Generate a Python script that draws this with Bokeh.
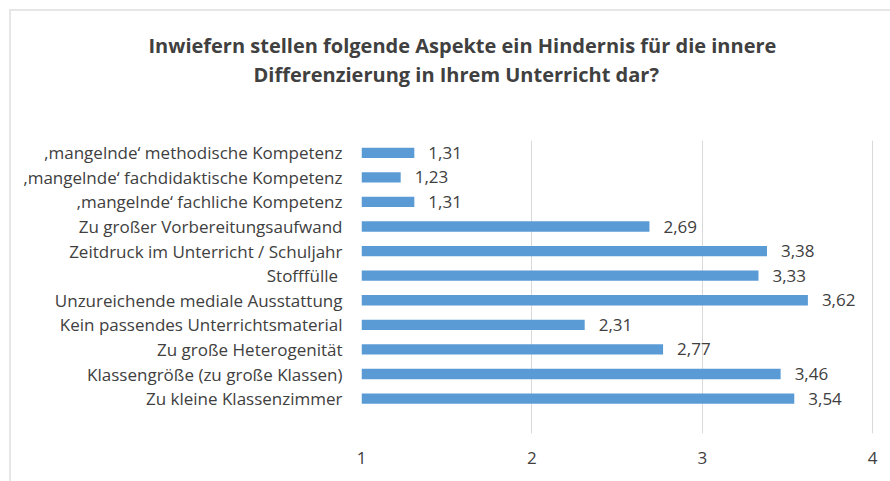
from bokeh.plotting import figure
from bokeh.models import Range1d, ColumnDataSource, LabelSet, Title, FixedTicker, InlineStyleSheet
from bokeh.core.properties import value
from bokeh.embed import file_html
from bokeh.resources import INLINE

categories = [
    "‚mangelnde‘ methodische Kompetenz",
    "‚mangelnde‘ fachdidaktische Kompetenz",
    "‚mangelnde‘ fachliche Kompetenz",
    "Zu großer Vorbereitungsaufwand",
    "Zeitdruck im Unterricht / Schuljahr",
    "Stofffülle ",
    "Unzureichende mediale Ausstattung",
    "Kein passendes Unterrichtsmaterial",
    "Zu große Heterogenität",
    "Klassengröße (zu große Klassen)",
    "Zu kleine Klassenzimmer",
]
values = [1.31, 1.23, 1.31, 2.69, 3.38, 3.33, 3.62, 2.31, 2.77, 3.46, 3.54]
x_ticks = [1, 2, 3, 4]

title_lines = [
    "Inwiefern stellen folgende Aspekte ein Hindernis für die innere",
    "Differenzierung in Ihrem Unterricht dar?",
]

FONT = "Open Sans"
TXT = "#404040"

pos = list(range(len(categories)))
src = ColumnDataSource(dict(
    y=pos,
    v=values,
    lbl=[f"{v:.2f}".replace(".", ",") for v in values],
))

p = figure(
    width=882, height=473,
    x_range=Range1d(1, 4.005),
    y_range=Range1d(len(categories) - 0.5 + 0.92, -0.5),
    output_backend="svg", toolbar_location=None,
    min_border_left=361, min_border_right=9, min_border_bottom=40, min_border_top=140,
)

# faint chart-area border on the top and left edge
p.stylesheets = [InlineStyleSheet(css=(
    ":host::after { content: ''; position: absolute; left: 9px; top: 9px; right: -20px; "
    "bottom: -20px; border-left: 2px solid #e6e6e6; border-top: 2px solid #e6e6e6; "
    "pointer-events: none; }"
))]

p.hbar(y="y", left=1, right="v", height=0.42, source=src,
       fill_color="#5b9bd5", line_color=None)

labels = LabelSet(x="v", y="y", text="lbl", source=src, x_offset=14,
                  text_baseline="middle", text_align="left",
                  text_font=value(FONT), text_font_size="17px", text_color=TXT)
p.add_layout(labels)

# spacer between the title and the plot area
p.add_layout(Title(text=" ", text_font=FONT, text_font_size="10px", standoff=37), "above")
# two-line title (closest-to-frame added first)
p.add_layout(Title(text=title_lines[1], align="left", offset=-108, standoff=0,
                   text_font=FONT, text_font_size="20px", text_font_style="bold",
                   text_color=TXT), "above")
p.add_layout(Title(text=title_lines[0], align="left", offset=-213, standoff=0,
                   text_font=FONT, text_font_size="20px", text_font_style="bold",
                   text_color=TXT), "above")

p.xaxis.ticker = FixedTicker(ticks=x_ticks)
p.xaxis.axis_line_color = None
p.xaxis.major_tick_line_color = None
p.xaxis.minor_tick_line_color = None
p.xaxis.major_label_standoff = 12
p.xaxis.major_label_text_font = FONT
p.xaxis.major_label_text_font_size = "17px"
p.xaxis.major_label_text_color = TXT

p.yaxis.ticker = FixedTicker(ticks=pos)
p.yaxis.major_label_overrides = {i: c for i, c in enumerate(categories)}
p.yaxis.axis_line_color = None
p.yaxis.major_tick_line_color = None
p.yaxis.minor_tick_line_color = None
p.yaxis.major_label_standoff = 13
p.yaxis.major_label_text_font = FONT
p.yaxis.major_label_text_font_size = "17px"
p.yaxis.major_label_text_color = TXT

p.xgrid.grid_line_color = "#d9d9d9"
p.ygrid.grid_line_color = None
p.outline_line_color = None

open("out.html", "w").write(file_html(p, INLINE))
